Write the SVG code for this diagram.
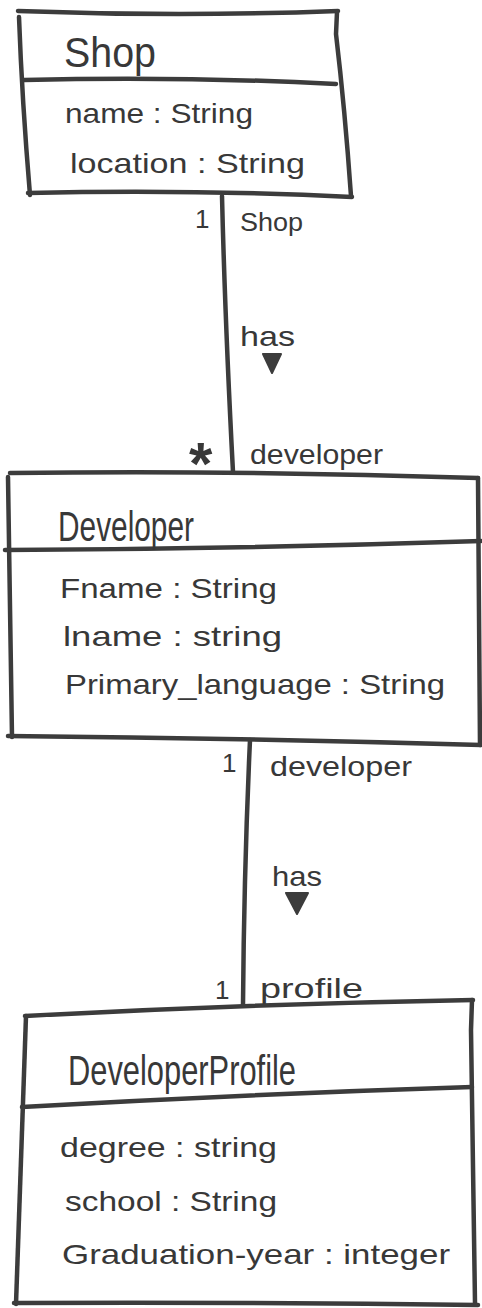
<svg xmlns="http://www.w3.org/2000/svg" width="482" height="1308" viewBox="0 0 482 1308">
  <style>
    .ln { fill: none; stroke: #3c3c3c; stroke-width: 4.5; stroke-linecap: round; stroke-linejoin: round; }
    .tx { font-family: "Liberation Sans", "DejaVu Sans", sans-serif; fill: #383838; }
    .title { font-size: 42px; }
    .attr { font-size: 28px; }
    .lbl { font-size: 26px; }
    .tri { fill: #3c3c3c; stroke: #3c3c3c; stroke-width: 2; stroke-linejoin: round; }
  </style>
  <rect width="482" height="1308" fill="#ffffff"/>

  <!-- class: Shop -->
  <g id="shop">
    <path class="ln" d="M18,11 Q180,17 338,11"/>
    <path class="ln" d="M19,17 Q22,100 30,195"/>
    <path class="ln" d="M337,12 L336,34 Q345,110 351,196"/>
    <path class="ln" d="M24,80 Q180,76 336,84"/>
    <path class="ln" d="M28,193 Q190,189 352,197"/>
    <text class="tx title" x="64" y="67" textLength="92" lengthAdjust="spacingAndGlyphs">Shop</text>
    <text class="tx attr" x="65" y="123" textLength="188" lengthAdjust="spacingAndGlyphs">name : String</text>
    <text class="tx attr" x="70" y="173" textLength="235" lengthAdjust="spacingAndGlyphs">location : String</text>
  </g>

  <!-- class: Developer -->
  <g id="developer">
    <path class="ln" d="M10,473 Q240,470 478,478"/>
    <path class="ln" d="M8,477 L12,737"/>
    <path class="ln" d="M478,478 L480,745"/>
    <path class="ln" d="M5,550 Q240,549 481,541"/>
    <path class="ln" d="M8,736 Q240,738 481,745"/>
    <text class="tx title" x="58" y="541" textLength="136" lengthAdjust="spacingAndGlyphs">Developer</text>
    <text class="tx attr" x="60" y="598" textLength="217" lengthAdjust="spacingAndGlyphs">Fname : String</text>
    <text class="tx attr" x="63" y="646" textLength="219" lengthAdjust="spacingAndGlyphs">lname : string</text>
    <text class="tx attr" x="65" y="694" textLength="380" lengthAdjust="spacingAndGlyphs">Primary_language : String</text>
  </g>

  <!-- class: DeveloperProfile -->
  <g id="developer-profile">
    <path class="ln" d="M25,1016 Q250,1004 473,1000"/>
    <path class="ln" d="M26,1016 L16,1304"/>
    <path class="ln" d="M472,1000 L471,1030 L475,1303"/>
    <path class="ln" d="M22,1107 Q250,1094 472,1087"/>
    <path class="ln" d="M14,1303 Q250,1302 478,1305"/>
    <text class="tx title" x="68" y="1085" textLength="228" lengthAdjust="spacingAndGlyphs">DeveloperProfile</text>
    <text class="tx attr" x="60" y="1157" textLength="217" lengthAdjust="spacingAndGlyphs">degree : string</text>
    <text class="tx attr" x="65" y="1211" textLength="212" lengthAdjust="spacingAndGlyphs">school : String</text>
    <text class="tx attr" x="62" y="1264" textLength="388" lengthAdjust="spacingAndGlyphs">Graduation-year : integer</text>
  </g>

  <!-- associations -->
  <g id="connectors">
    <path class="ln" d="M222,196 Q225,320 233,472"/>
    <path class="ln" d="M250,740 Q244,870 243,1005"/>
  </g>

  <!-- association labels: multiplicities, role names, reading direction -->
  <g id="labels">
    <text class="tx lbl" x="195" y="228">1</text>
    <text class="tx lbl" x="240" y="231" textLength="63" lengthAdjust="spacingAndGlyphs">Shop</text>
    <text class="tx attr" x="240" y="346" textLength="55" lengthAdjust="spacingAndGlyphs">has</text>
    <polygon class="tri" points="263,354 281,354 272,373"/>
    <text class="tx" x="189" y="484" font-size="60" font-weight="bold">*</text>
    <text class="tx attr" x="250" y="464" textLength="133" lengthAdjust="spacingAndGlyphs">developer</text>

    <text class="tx lbl" x="222" y="772">1</text>
    <text class="tx attr" x="270" y="776" textLength="142" lengthAdjust="spacingAndGlyphs">developer</text>
    <text class="tx attr" x="272" y="886" textLength="50" lengthAdjust="spacingAndGlyphs">has</text>
    <polygon class="tri" points="286,893 308,893 297,914"/>
    <text class="tx lbl" x="215" y="999">1</text>
    <text class="tx attr" x="260" y="998" textLength="103" lengthAdjust="spacingAndGlyphs">profile</text>
  </g>
</svg>
